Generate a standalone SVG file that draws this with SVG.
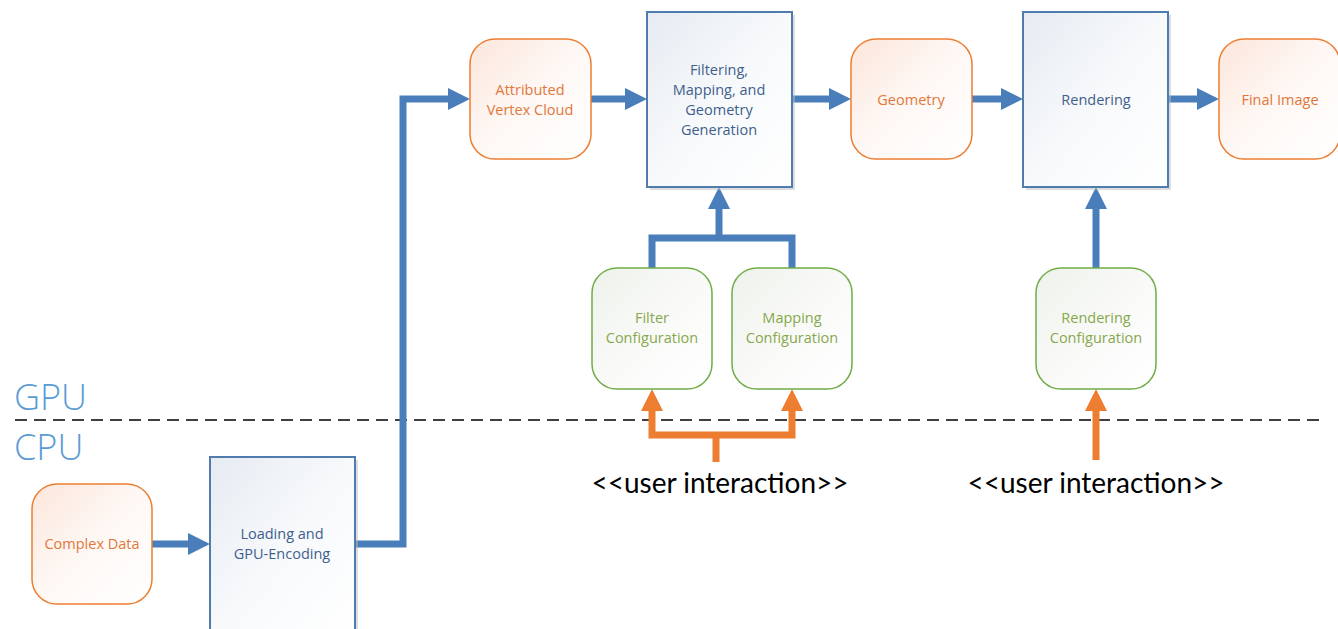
<svg xmlns="http://www.w3.org/2000/svg" width="1338" height="629" viewBox="0 0 1338 629">
<defs>
<linearGradient id="gBlue" x1="0" y1="0" x2="1" y2="1"><stop offset="0" stop-color="#E6EBF2"/><stop offset="0.5" stop-color="#F7F9FB"/><stop offset="1" stop-color="#FFFFFF"/></linearGradient>
<linearGradient id="gOrange" x1="0" y1="0" x2="1" y2="1"><stop offset="0" stop-color="#FCE6DB"/><stop offset="0.5" stop-color="#FEF8F5"/><stop offset="1" stop-color="#FFFFFF"/></linearGradient>
<linearGradient id="gGreen" x1="0" y1="0" x2="1" y2="1"><stop offset="0" stop-color="#EEF1EB"/><stop offset="0.5" stop-color="#F9FAF8"/><stop offset="1" stop-color="#FFFFFF"/></linearGradient>
<marker id="aBlue" markerUnits="userSpaceOnUse" markerWidth="23" markerHeight="24" refX="1" refY="12" orient="auto"><path d="M0,1 L22,12 L0,23 z" fill="#4A7EBB"/></marker>
<marker id="aOrange" markerUnits="userSpaceOnUse" markerWidth="23" markerHeight="24" refX="1" refY="12" orient="auto"><path d="M0,1 L22,12 L0,23 z" fill="#ED7D31"/></marker>
</defs>
<style>
.box{fill:url(#gBlue);stroke:#4F7CAC;stroke-width:2}
.shadow{fill:#B8BCC2;opacity:0.5}
.ob{fill:url(#gOrange);stroke:#ED7D31;stroke-width:1.5}
.gb{fill:url(#gGreen);stroke:#70AD47;stroke-width:1.5}
.t{font-family:"Open Sans","DejaVu Sans",sans-serif;font-size:14.5px;text-anchor:middle}
.tb{fill:#3F5F8C}
.to{fill:#E2773A}
.tg{fill:#86A84C}
.cb{fill:none;stroke:#4A7EBB;stroke-width:7;marker-end:url(#aBlue)}
.cbn{fill:none;stroke:#4A7EBB;stroke-width:7}
.co{fill:none;stroke:#ED7D31;stroke-width:7;marker-end:url(#aOrange)}
.con{fill:none;stroke:#ED7D31;stroke-width:7}
.lay{font-family:"Open Sans","Segoe UI","DejaVu Sans",sans-serif;font-size:36px;font-weight:300;fill:#5B9BD5}
.ui{font-family:Lato,"Open Sans",sans-serif;font-size:28px;fill:#000;text-anchor:middle}
</style>

<line x1="15" y1="420" x2="1322" y2="420" stroke="#000" stroke-width="1.5" stroke-dasharray="12,7"/>
<text class="lay" x="14" y="410">GPU</text>
<text class="lay" x="14" y="460">CPU</text>

<g id="connectors">
<path class="cb" d="M152,544 H189"/>
<path class="cb" d="M355,544 H403 V99 H449"/>
<path class="cb" d="M591,99 H626"/>
<path class="cb" d="M792,99 H830"/>
<path class="cb" d="M972,99 H1002"/>
<path class="cb" d="M1168,99 H1198"/>
<path class="cbn" d="M652,268 V238 H792 V268"/>
<path class="cb" d="M719,238 V208"/>
<path class="cb" d="M1096,268 V208"/>
<path class="con" d="M716,462 V435"/>
<path class="co" d="M716,435 H652 V410"/>
<path class="co" d="M716,435 H792 V410"/>
<path class="co" d="M1096,460 V410"/>
</g>

<g id="avc"><rect class="ob" x="470" y="39" width="121" height="120" rx="25"/><text class="t to" x="530" y="95">Attributed</text><text class="t to" x="530" y="115">Vertex Cloud</text></g>
<g id="filtering"><rect class="shadow" x="650" y="15" width="145" height="175"/><rect class="box" x="647" y="12" width="145" height="175"/><text class="t tb" x="719" y="75">Filtering,</text><text class="t tb" x="719" y="95">Mapping, and</text><text class="t tb" x="719" y="115">Geometry</text><text class="t tb" x="719" y="135">Generation</text></g>
<g id="geometry"><rect class="ob" x="851" y="39" width="121" height="120" rx="25"/><text class="t to" x="911" y="105">Geometry</text></g>
<g id="rendering"><rect class="shadow" x="1026" y="15" width="145" height="175"/><rect class="box" x="1023" y="12" width="145" height="175"/><text class="t tb" x="1096" y="105">Rendering</text></g>
<g id="final"><rect class="ob" x="1219" y="39" width="121" height="120" rx="25"/><text class="t to" x="1280" y="105">Final Image</text></g>
<g id="filterconf"><rect class="gb" x="592" y="268" width="120" height="121" rx="25"/><text class="t tg" x="652" y="323">Filter</text><text class="t tg" x="652" y="343">Configuration</text></g>
<g id="mappingconf"><rect class="gb" x="732" y="268" width="120" height="121" rx="25"/><text class="t tg" x="792" y="323">Mapping</text><text class="t tg" x="792" y="343">Configuration</text></g>
<g id="renderconf"><rect class="gb" x="1036" y="268" width="120" height="121" rx="25"/><text class="t tg" x="1096" y="323">Rendering</text><text class="t tg" x="1096" y="343">Configuration</text></g>
<g id="complex"><rect class="ob" x="32" y="484" width="120" height="120" rx="25"/><text class="t to" x="92" y="549">Complex Data</text></g>
<g id="loading"><rect class="shadow" x="213" y="460" width="145" height="175"/><rect class="box" x="210" y="457" width="145" height="180"/><text class="t tb" x="282" y="539">Loading and</text><text class="t tb" x="282" y="559">GPU-Encoding</text></g>

<text class="ui" x="720" y="493">&lt;&lt;user interaction&gt;&gt;</text>
<text class="ui" x="1096" y="493">&lt;&lt;user interaction&gt;&gt;</text>
</svg>
